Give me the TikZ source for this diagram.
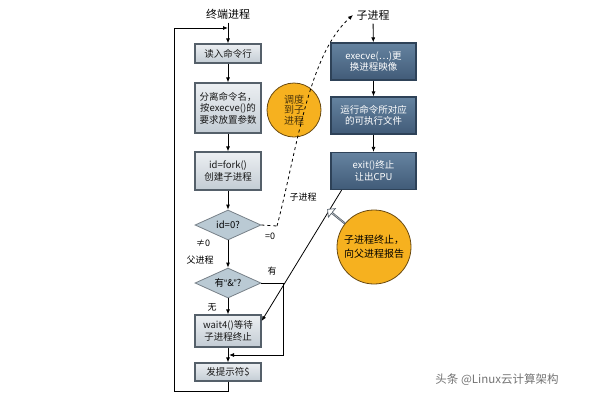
\documentclass[tikz,border=0pt]{standalone}
\usepackage{fontspec}
\setmainfont{Noto Sans CJK SC}
\newfontfamily\quotefont{Liberation Sans}
\usetikzlibrary{arrows.meta,positioning,calc,shapes.geometric,shapes.arrows}
\definecolor{boxtop}{HTML}{ECEFF2}
\definecolor{boxbot}{HTML}{C3CCD4}
\definecolor{edgegrey}{HTML}{55606A}
\definecolor{kidtop}{HTML}{6583A0}
\definecolor{kidbot}{HTML}{415B78}
\definecolor{kidedge}{HTML}{2E4258}
\definecolor{askfill}{HTML}{BACAD4}
\definecolor{dotorange}{HTML}{F6B11F}
\definecolor{dotedge}{HTML}{6A4A10}

\begin{document}
\begin{tikzpicture}[x=1pt,y=-1pt,font=\fontsize{9.5}{11.5}\selectfont,
  pbox/.style={draw=edgegrey,line width=1.2pt,top color=boxtop,bottom color=boxbot,
               minimum width=66pt,inner sep=1pt,align=center,text=black!90},
  kbox/.style={draw=kidedge,line width=1.2pt,top color=kidtop,bottom color=kidbot,
               minimum width=85pt,minimum height=37pt,inner sep=1pt,align=center,text=white},
  ask/.style={diamond,aspect=2.2,draw=edgegrey!80,fill=askfill,line width=0.8pt,
              minimum width=66pt,minimum height=30pt,inner sep=0pt},
  dot/.style={circle,draw=dotedge,fill=dotorange,line width=0.8pt,inner sep=0pt,align=center},
  hint/.style={single arrow,draw=edgegrey,fill=white,line width=0.7pt,
               minimum height=22pt,minimum width=11pt,single arrow head extend=2.5pt,inner sep=0pt},
  arr/.style={-{Latex[length=5pt,width=4pt]},line width=0.8pt},
  lbl/.style={font=\fontsize{9}{10}\selectfont},
  ttl/.style={font=\fontsize{11}{12}\selectfont},
]
\useasboundingbox (0,0) rectangle (600,400);

% parent side
\node[ttl] (term) at (228,14) {终端进程};
\node[pbox,minimum height=19pt] (read)  at (228,53.5) {读入命令行};
\node[pbox,minimum height=50pt] (split) at (228,108)  {分离命令名，\\按execve()的\\要求放置参数};
\node[pbox,minimum height=38pt] (fork)  at (228,171)  {id=fork()\\创建子进程};
\node[ask] (isnull) at (228,225) {id=0?};
\node[ask] (isbg)   at (228,283) {有{\quotefont“}\&{\quotefont”}?};
\node[pbox,minimum height=32pt] (wait)   at (228,331) {wait4()等待\\子进程终止};
\node[pbox,minimum height=18pt] (prompt) at (228,372) {发提示符\$};

\coordinate (join)  at (228,28);
\coordinate (loopb) at (174,391);
\coordinate (bgcnr) at (283,355);
\coordinate (bgend) at (229,355);
\coordinate (zero)  at (277,226);

\draw[arr] (term) -- (read);
\draw[arr] (read) -- (split);
\draw[arr] (split) -- (fork);
\draw[arr] (fork) -- (isnull);
\draw[arr] (isnull) -- (isbg);
\draw[arr] (isbg) -- (wait);
\draw[arr] (wait) -- (prompt);
\draw[arr] (prompt.south) |- (loopb) |- (join);
\draw[arr] (isbg.east) -| (bgcnr) -- (bgend);

\node[lbl] (ne0)   at (203,243) {≠0};
\node[lbl] (ppro)  at (200,260) {父进程};
\node[lbl] (yes)   at (272,271) {有};
\node[lbl] (no)    at (212,307) {无};
\node[lbl] (eq0)   at (270,236) {=0};
\node[lbl] (cpro)  at (303,197) {子进程};

% child side
\node[ttl] (child) at (373,15) {子进程};
\node[kbox] (exec) at (373.5,61.5) {execve(…)更\\换进程映像};
\node[kbox] (run)  at (373.5,115.5) {运行命令所对应\\的可执行文件};
\node[kbox] (quit) at (373.5,171) {exit()终止\\让出CPU};

\draw[arr] (child) -- (exec);
\draw[arr] (exec) -- (run);
\draw[arr] (run) -- (quit);

\node[dot,minimum size=54pt,font=\fontsize{10}{10.5}\selectfont,text=dotedge!70!black] (sched) at (294,110) {调度\\到子\\进程};
\node[dot,minimum size=74pt,font=\fontsize{10}{14}\selectfont] (report) at (374,247) {子进程终止，\\向父进程报告};

\draw[dashed,line width=0.8pt] (isnull.east) -- (zero);
\draw[dashed,line width=0.8pt,-{Latex[length=5pt,width=4pt]}]
  (zero) .. controls (297,150) and (308,55) .. (child.west);

\draw[arr] ($(quit.south west)!0.13!(quit.south east)$) -- ($(wait.north east)!0.2!(wait.south east)$);
\node[hint,rotate=141,anchor=tail] (notify) at (report.141) {};

\node[font=\fontsize{11.5}{12}\selectfont,text=black!55] (mark) at (497,380) {头条 @Linux云计算架构};
\end{tikzpicture}
\end{document}
